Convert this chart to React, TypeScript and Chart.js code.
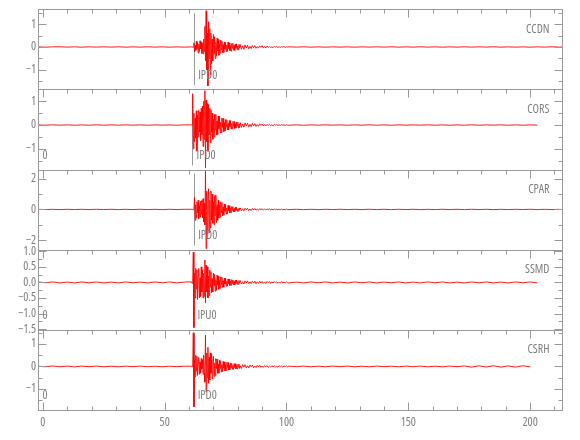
import React, { useEffect, useRef } from "react";
import { Chart, registerables } from "chart.js";

Chart.register(...registerables);

// ---------- data ----------
const stations = ["CCDN", "CORS", "CPAR", "SSMD", "CSRH"];
const phaseLabels = ["IPD0", "IPD0", "IPD0", "IPU0", "IPD0"];
const pickTimes = [62.1, 61.4, 62.1, 61.8, 61.9];
const zeroTags = [false, true, false, true, true];

const xMin = -2;
const xMax = 213.5;
const xMajorTicks = [0, 50, 100, 150, 200];
const xMinorTicks = [10, 20, 30, 40, 60, 70, 80, 90, 110, 120, 130, 140, 160, 170, 180, 190, 210];

const yMins = [-1.85, -1.87, -2.62, -1.52, -1.94];
const yMaxs = [1.65, 1.5, 2.6, 1.05, 1.63];
const yMajorTicks = [
  [-1, 0, 1],
  [-1, 0, 1],
  [-2, 0, 2],
  [-1.5, -1, -0.5, 0, 0.5, 1],
  [-1, 0, 1],
];
const yMinorTicks = [
  [-1.5, -0.5, 0.5, 1.5],
  [-1.5, -0.5, 0.5, 1.5],
  [-1, 1],
  [-1.25, -0.75, -0.25, 0.25, 0.75],
  [-1.5, -0.5, 0.5, 1.5],
];
const yDecimals = [0, 0, 0, 1, 0];

// sampling of the segments of every trace (seconds)
const preStart = -2;
const preStep = 3;
const burstStart = 61;
const burstStep = 0.25;
const decayStep = 0.5;
const codaStep = 3;

const ccdnPre = [0.005, -0.008, 0.006, 0.008, -0.005, 0.006, -0.008, 0.007, -0.005, 0.006, -0.005, 0.008, -0.007, 0.005, -0.006, 0.008, -0.005, 0.006, -0.008, 0.005, -0.006];
const ccdnBurst = [
  0.005, -0.01, 0.01, -0.005, 0.18, -0.22, 0.08, -0.15, 0.25, -0.1,
  0.2, -0.26, 0.12, -0.2, 0.27, -0.08, 0.22, -0.28, 0.15, -0.3,
  0.35, -0.2, 0.9, -0.6, 1.58, -1.0, 0.6, -1.7, 1.1, -0.5,
  0.8, -1.2, 0.6, -0.75, 0.35, -0.6, 0.55, -0.3, 0.45, -0.5,
  0.2, -0.4, 0.38, -0.15, 0.33, -0.36, 0.12, -0.28, 0.3, -0.1,
  0.26, -0.25, 0.1, -0.24, 0.22, -0.09, 0.2, -0.2, 0.08, -0.19,
  0.21, -0.07, 0.18, -0.16, 0.06, -0.18, 0.15, -0.05, 0.16, -0.14,
  0.07, -0.15, 0.13, -0.05, 0.14, -0.12, 0.04, -0.12, 0.11, -0.05,
];
const ccdnDecay = [
  0.11, -0.1, 0.05, -0.1, 0.09, -0.04, 0.08, -0.08, 0.03, -0.07,
  0.07, -0.03, 0.06, -0.06, 0.02, -0.05, 0.05, -0.02, 0.05, -0.04,
  0.02, -0.04, 0.04, -0.02, 0.03, -0.03, 0.01, -0.03, 0.03, -0.01,
  0.02, -0.02, 0.01, -0.02, 0.02, -0.01, 0.02, -0.02, 0.01, -0.01,
];
const ccdnCoda = [0.008, -0.005, 0.008, -0.007, 0.005, -0.008, 0.007, -0.005, 0.006, -0.008, 0.007, -0.005, 0.006, -0.005, 0.008, -0.007, 0.005, -0.006, 0.008, -0.005, 0.006, -0.008, 0.005, -0.006, 0.008, -0.005, 0.006, -0.005, 0.008, -0.007, 0.005, -0.006, 0.005, -0.008, 0.006, -0.005, 0.008, -0.005, 0.006];

const corsPre = [0.005, -0.006, 0.008, -0.005, 0.006, -0.008, 0.005, -0.006, 0.008, -0.005, 0.006, -0.005, 0.008, -0.006, 0.005, -0.008, 0.006, -0.005, 0.006, -0.008, 0.005];
const corsBurst = [
  0.01, -0.01, 1.3, -1.0, 0.5, -0.7, 0.3, -0.55, 0.6, -1.1,
  0.4, -0.5, 0.62, -0.3, 0.55, -0.65, 0.7, -0.4, 0.8, -0.9,
  1.0, -0.6, 1.45, -1.8, 1.05, -0.7, 0.9, -1.1, 0.85, -0.4,
  0.7, -0.75, 0.65, -0.3, 0.5, -0.6, 0.25, -0.5, 0.45, -0.2,
  0.45, -0.42, 0.18, -0.4, 0.38, -0.15, 0.36, -0.33, 0.12, -0.32,
  0.3, -0.1, 0.28, -0.27, 0.1, -0.25, 0.24, -0.08, 0.22, -0.21,
  0.07, -0.2, 0.19, -0.06, 0.18, -0.17, 0.06, -0.16, 0.15, -0.05,
  0.15, -0.14, 0.05, -0.13, 0.13, -0.04, 0.12, -0.12, 0.04, -0.11,
];
const corsDecay = [
  0.1, -0.1, 0.04, -0.09, 0.09, -0.03, 0.08, -0.08, 0.03, -0.07,
  0.07, -0.03, 0.06, -0.06, 0.02, -0.05, 0.05, -0.02, 0.04, -0.04,
  0.02, -0.04, 0.03, -0.02, 0.03, -0.03, 0.01, -0.03, 0.02, -0.01,
  0.02, -0.02, 0.01, -0.02, 0.02, -0.01, 0.01, -0.02, 0.01, -0.01,
];
const corsCoda = [-0.008, 0.005, -0.008, 0.007, -0.005, 0.008, -0.006, 0.005, -0.008, 0.006, -0.005, 0.008, -0.006, 0.005, -0.008, 0.007, -0.005, 0.006, -0.005, 0.008, -0.006, 0.005, -0.008, 0.006, -0.005, 0.008, -0.006, 0.005, -0.005, 0.008, -0.007, 0.005, -0.006, 0.005, -0.006];

const cparPre = [0.01, -0.01, 0.008, -0.012, 0.01, -0.008, 0.01, -0.01, 0.012, -0.008, 0.01, -0.01, 0.008, -0.01, 0.012, -0.01, 0.008, -0.01, 0.01, -0.008, 0.01];
const cparBurst = [
  0.01, -0.01, 0.01, -0.01, 0.02, 0.8, -0.7, 0.3, -0.55, 0.5,
  -0.2, 0.6, -0.6, 0.25, -0.5, 0.55, -0.3, 0.6, -0.55, 0.7,
  -0.8, 0.4, -1.0, 2.5, -2.55, 1.2, -1.6, 0.8, 1.35, -1.5,
  0.6, -1.2, 1.2, -0.7, 1.0, -0.9, 0.5, -1.0, 0.9, -0.4,
  0.95, -0.85, 0.3, -0.7, 0.6, -0.55, 0.25, -0.5, 0.5, -0.2,
  0.45, -0.42, 0.15, -0.38, 0.35, -0.12, 0.32, -0.3, 0.1, -0.28,
  0.26, -0.08, 0.24, -0.22, 0.07, -0.2, 0.19, -0.06, 0.18, -0.16,
  0.05, -0.15, 0.14, -0.05, 0.13, -0.12, 0.04, -0.11, 0.1, -0.04,
];
const cparDecay = [
  0.1, -0.09, 0.04, -0.09, 0.08, -0.03, 0.08, -0.07, 0.03, -0.07,
  0.06, -0.03, 0.06, -0.05, 0.02, -0.05, 0.05, -0.02, 0.05, -0.04,
  0.02, -0.04, 0.04, -0.02, 0.03, -0.03, 0.02, -0.03, 0.03, -0.02,
  0.02, -0.03, 0.01, -0.02, 0.02, -0.02, 0.01, -0.02, 0.02, -0.01,
];
const cparCoda = [-0.01, 0.012, -0.01, 0.008, -0.012, 0.01, -0.008, 0.012, -0.01, 0.008, -0.01, 0.012, -0.008, 0.01, -0.012, 0.01, -0.008, 0.01, -0.012, 0.008, -0.01, 0.012, -0.008, 0.01, -0.01, 0.012, -0.008, 0.01, -0.012, 0.008, -0.01, 0.01, -0.008, 0.012, -0.01, 0.008, -0.01, 0.01];

const ssmdPre = [0.015, -0.01, 0.015, -0.015, 0.01, -0.015, 0.015, -0.01, 0.015, -0.015, 0.01, -0.015, 0.015, -0.01, 0.01, -0.015, 0.015, -0.01, 0.015, -0.015, 0.01];
const ssmdBurst = [
  0.02, -0.03, 0.02, 0.97, -1.45, 0.3, -0.5, 0.45, -0.2, 0.4,
  -0.55, 0.2, 0.45, -0.5, 0.15, -0.45, 0.5, -0.3, 0.4, -0.5,
  0.3, -0.45, 0.72, -0.66, 0.55, -0.3, 0.5, -0.5, 0.2, -0.42,
  0.4, -0.15, 0.35, -0.33, 0.12, -0.3, 0.3, -0.1, 0.26, -0.28,
  0.08, -0.25, 0.23, -0.07, 0.2, -0.22, 0.06, -0.19, 0.18, -0.06,
  0.17, -0.16, 0.05, -0.15, 0.14, -0.05, 0.13, -0.12, 0.04, -0.12,
  0.11, -0.04, 0.1, -0.1, 0.04, -0.09, 0.09, -0.03, 0.08, -0.08,
  0.03, -0.08, 0.07, -0.03, 0.07, -0.06, 0.03, -0.06, 0.06, -0.02,
];
const ssmdDecay = [
  0.06, -0.05, 0.02, -0.05, 0.05, -0.02, 0.05, -0.04, 0.02, -0.04,
  0.04, -0.02, 0.04, -0.04, 0.02, -0.03, 0.04, -0.02, 0.03, -0.03,
  0.02, -0.03, 0.03, -0.01, 0.03, -0.03, 0.02, -0.02, 0.03, -0.01,
  0.02, -0.03, 0.01, -0.02, 0.03, -0.02, 0.01, -0.02, 0.02, -0.01,
];
const ssmdCoda = [-0.015, 0.01, -0.015, 0.015, -0.01, 0.015, -0.015, 0.01, -0.015, 0.015, -0.01, 0.015, -0.015, 0.01, -0.01, 0.015, -0.015, 0.01, -0.015, 0.015, -0.01, 0.015, -0.015, 0.01, -0.015, 0.015, -0.01, 0.015, -0.015, 0.01, -0.015, 0.015, -0.01, 0.015, -0.015];

const csrhPre = [0.01, -0.015, 0.02, -0.015, 0.015, -0.02, 0.015, -0.01, 0.015, -0.015, 0.01, -0.015, 0.015, -0.01, 0.015, -0.01, 0.01, -0.015, 0.01, -0.01, 0.01];
const csrhBurst = [
  0.01, -0.02, 0.02, 1.5, -1.8, 0.3, -0.45, 0.5, -0.2, 0.45,
  -0.4, 0.15, 0.4, -0.35, 0.2, -0.3, 0.35, -0.1, 0.3, -0.35,
  0.5, -0.3, -0.7, 1.4, -1.13, 0.6, -0.5, 0.85, -0.75, 0.4,
  -0.6, 0.6, -0.3, 0.55, -0.55, 0.2, 0.45, -0.45, 0.15, -0.4,
  0.35, -0.1, 0.33, -0.3, 0.1, -0.3, 0.28, -0.08, 0.26, -0.25,
  0.07, -0.23, 0.22, -0.06, 0.2, -0.2, 0.06, -0.18, 0.18, -0.05,
  0.17, -0.16, 0.05, -0.15, 0.15, -0.05, 0.14, -0.13, 0.04, -0.13,
  0.12, -0.04, 0.12, -0.11, 0.04, -0.11, 0.1, -0.03, 0.1, -0.09,
];
const csrhDecay = [
  0.03, -0.09, 0.08, -0.03, 0.08, -0.07, 0.03, -0.07, 0.06, -0.02,
  0.06, -0.06, 0.02, -0.05, 0.05, -0.02, 0.05, -0.04, 0.02, -0.04,
  0.04, -0.02, 0.04, -0.04, 0.01, -0.03, 0.03, -0.02, 0.03, -0.03,
  0.01, -0.03, 0.03, -0.01, 0.02, -0.03, 0.02, -0.01, 0.02, -0.02,
];
const csrhCoda = [0.015, -0.01, 0.015, -0.015, 0.01, -0.015, 0.015, -0.01, 0.015, -0.015, 0.01, -0.015, 0.015, -0.01, 0.01, -0.015, 0.015, -0.01, 0.015, -0.015, 0.01, -0.015, 0.015, -0.01, 0.02, -0.03, 0.03, -0.025, 0.03, -0.03, 0.025, -0.03, 0.03, -0.02];

const preSeries = [ccdnPre, corsPre, cparPre, ssmdPre, csrhPre];
const burstSeries = [ccdnBurst, corsBurst, cparBurst, ssmdBurst, csrhBurst];
const decaySeries = [ccdnDecay, corsDecay, cparDecay, ssmdDecay, csrhDecay];
const codaSeries = [ccdnCoda, corsCoda, cparCoda, ssmdCoda, csrhCoda];

// ---------- style ----------
const FONT_FAMILY = "'Open Sans', 'DejaVu Sans', sans-serif";
const FONT_STRETCH = "condensed";
const FONT_SIZE = 12;
const TEXT = "#808080";
const AXIS = "#9a9a9a";
const TRACE = "rgba(255,0,0,0.9)";
const pickColors = ["#9a9a9a", "#9a9a9a", "#9a9a9a", "#7a0a0a", "#9a9a9a"];

function buildTrace(pre: number[], burst: number[], decay: number[], coda: number[]) {
  const pts: { x: number; y: number }[] = [];
  pre.forEach((v, i) => pts.push({ x: preStart + i * preStep, y: v }));
  burst.forEach((v, i) => pts.push({ x: burstStart + i * burstStep, y: v }));
  const decayStart = burstStart + burst.length * burstStep;
  decay.forEach((v, i) => pts.push({ x: decayStart + i * decayStep, y: v }));
  const codaStart = decayStart + decay.length * decayStep;
  coda.forEach((v, i) => pts.push({ x: codaStart + i * codaStep, y: v }));
  return pts;
}

function fmt(v: number, dec: number) {
  const s = Math.abs(v).toFixed(dec);
  return v < -1e-9 ? "\u2212" + s : s;
}

const framePlugin = {
  id: "seisFrame",
  beforeDatasetsDraw(chart: any) {
    const ctx = chart.ctx;
    const xs = chart.scales.x;
    ctx.save();
    stations.forEach((_, i) => {
      const ys = chart.scales["y" + i];
      const px = Math.round(xs.getPixelForValue(pickTimes[i])) + 0.5;
      ctx.strokeStyle = pickColors[i];
      ctx.lineWidth = 1;
      ctx.beginPath();
      ctx.moveTo(px, ys.top + 4);
      ctx.lineTo(px, ys.bottom - 4);
      ctx.stroke();
    });
    ctx.restore();
  },
  afterDatasetsDraw(chart: any) {
    const ctx = chart.ctx;
    const xs = chart.scales.x;
    const left = Math.round(xs.left) + 0.5;
    const right = Math.round(xs.right) - 0.5;
    ctx.save();
    ctx.lineWidth = 1;
    stations.forEach((name, i) => {
      const ys = chart.scales["y" + i];
      const top = Math.round(ys.top) + 0.5;
      const bottom = Math.round(ys.bottom) + 0.5;
      ctx.strokeStyle = AXIS;
      ctx.strokeRect(left, top, right - left, bottom - top);
      ctx.beginPath();
      const xTick = (v: number, len: number, atBottom: boolean) => {
        const px = Math.round(xs.getPixelForValue(v)) + 0.5;
        if (atBottom) {
          ctx.moveTo(px, bottom);
          ctx.lineTo(px, bottom - len);
        } else {
          ctx.moveTo(px, top);
          ctx.lineTo(px, top + len);
        }
      };
      xMajorTicks.forEach((v) => xTick(v, 8, false));
      xMinorTicks.forEach((v) => xTick(v, 4, false));
      if (i === stations.length - 1) {
        xMajorTicks.forEach((v) => xTick(v, 8, true));
        xMinorTicks.forEach((v) => xTick(v, 4, true));
      }
      const yTick = (v: number, len: number) => {
        const py = Math.round(ys.getPixelForValue(v)) + 0.5;
        ctx.moveTo(left, py);
        ctx.lineTo(left + len, py);
        ctx.moveTo(right, py);
        ctx.lineTo(right - len, py);
      };
      yMajorTicks[i].forEach((v) => yTick(v, 8));
      yMinorTicks[i].forEach((v) => yTick(v, 4));
      ctx.stroke();

      ctx.fillStyle = TEXT;
      ctx.font = FONT_STRETCH + " " + FONT_SIZE + "px " + FONT_FAMILY;
      ctx.textBaseline = "middle";
      ctx.textAlign = "right";
      ctx.fillText(name, right - 13, ys.top + 20);
      ctx.textAlign = "left";
      const px = xs.getPixelForValue(pickTimes[i]);
      ctx.fillText(phaseLabels[i], px + 4, ys.top + 66);
      if (zeroTags[i]) ctx.fillText("0", left + 4, ys.top + 66);
    });
    ctx.restore();
  },
};

export default function App() {
  const ref = useRef<HTMLCanvasElement>(null);
  useEffect(() => {
    const tickFont = { family: FONT_FAMILY, size: FONT_SIZE, weight: FONT_STRETCH };
    const datasets = stations.map((name, i) => ({
      label: name,
      data: buildTrace(preSeries[i], burstSeries[i], decaySeries[i], codaSeries[i]),
      yAxisID: "y" + i,
      borderColor: TRACE,
      borderWidth: 1,
      pointRadius: 0,
      tension: 0,
      fill: false,
    }));
    const scales: any = {
      x: {
        type: "linear",
        position: "bottom",
        min: xMin,
        max: xMax,
        afterBuildTicks: (s: any) => {
          s.ticks = xMajorTicks.map((v) => ({ value: v }));
        },
        afterFit: (s: any) => {
          s.height = 30;
        },
        grid: { display: false, drawTicks: false },
        border: { display: false },
        ticks: { color: TEXT, font: tickFont, padding: 5, autoSkip: false, maxRotation: 0 },
      },
    };
    stations.forEach((_, i) => {
      scales["y" + i] = {
        type: "linear",
        position: "left",
        stack: "traces",
        stackWeight: 1,
        weight: stations.length - i,
        min: yMins[i],
        max: yMaxs[i],
        afterBuildTicks: (s: any) => {
          s.ticks = yMajorTicks[i].map((v) => ({ value: v }));
        },
        afterFit: (s: any) => {
          s.width = 38;
        },
        grid: { display: false, drawTicks: false },
        border: { display: false },
        ticks: {
          color: TEXT,
          font: tickFont,
          padding: 2,
          autoSkip: false,
          callback: (v: any) => fmt(Number(v), yDecimals[i]),
        },
      };
    });
    const chart = new Chart(ref.current as HTMLCanvasElement, {
      type: "line",
      data: { datasets },
      options: {
        responsive: false,
        animation: false,
        parsing: false,
        normalized: true,
        layout: { padding: { top: 5, right: 17, left: 0, bottom: 0 } },
        plugins: { legend: { display: false }, tooltip: { enabled: false } },
        events: [],
        scales,
      } as any,
      plugins: [framePlugin],
    });
    return () => chart.destroy();
  }, []);
  return (
    <div style={{ position: "absolute", left: 0, top: 0, width: 580, height: 440, background: "#fff" }}>
      <canvas ref={ref} width={580} height={440} style={{ display: "block" }} />
    </div>
  );
}
